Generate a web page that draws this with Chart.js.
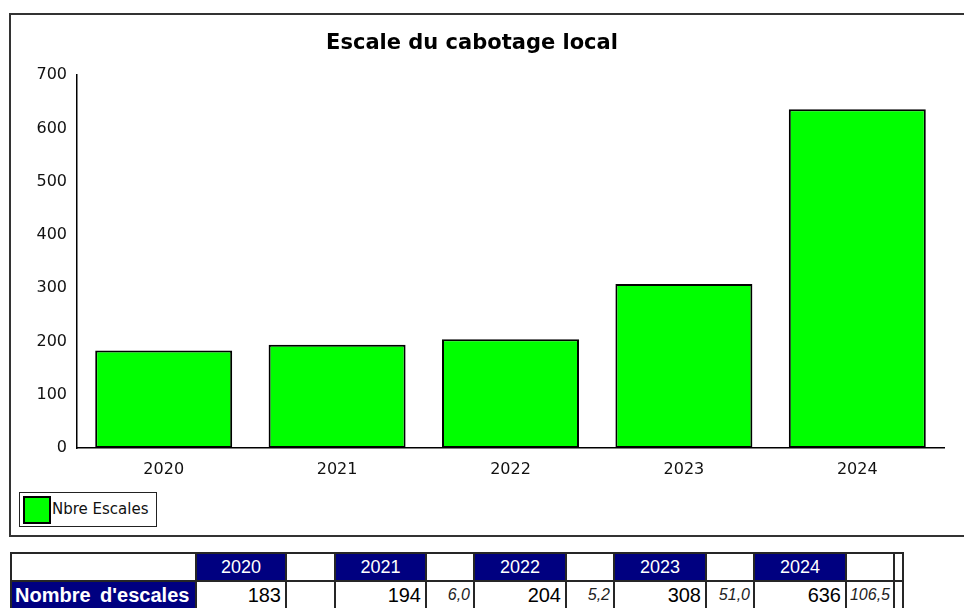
<!DOCTYPE html>
<html>
<head>
<meta charset="utf-8">
<script src="https://cdn.jsdelivr.net/npm/chart.js@4/dist/chart.umd.min.js"></script>
<style>
    body { margin: 0; width: 964px; height: 608px; overflow: hidden; background: #fff; position: relative; }
    #frame { position: absolute; left: 9px; top: 13px; width: 1000px; height: 520px; border: 2px solid #333; }
    #chart { position: absolute; left: 0; top: 0; }
    #legend { position: absolute; left: 19px; top: 492px; width: 136px; height: 33px; border: 1.5px solid #222; overflow: hidden; white-space: nowrap; font: 15px "DejaVu Sans", sans-serif; color: #111; }
    #legend .box { position: absolute; left: 3px; top: 3px; width: 24px; height: 24px; border: 2px solid #000; }
    #legend .txt { position: absolute; left: 32px; top: 7px; }
    #data-table { position: absolute; left: 10px; top: 552px; border-collapse: collapse; table-layout: fixed; font-family: "Liberation Sans", Arial, sans-serif; }
    #data-table td { border: 2px solid #262626; height: 26px; padding: 0; overflow: hidden; white-space: nowrap; }
    #data-table .year { background: #000080; color: #fff; font-size: 18px; text-align: center; }
    #data-table .rowlabel { background: #000080; color: #fff; font-size: 20px; font-weight: bold; padding-left: 3px; word-spacing: 4px; }
    #data-table .val { font-size: 20px; text-align: right; padding-right: 4px; color: #000; }
    #data-table .var { font-size: 16px; font-style: italic; text-align: right; padding-right: 3px; color: #222; }
</style>
</head>
<body>
<div id="frame"></div>
<canvas id="chart" width="964" height="490"></canvas>
<div id="legend"></div>
<table id="data-table"></table>
<script>
// values
const chartTitle = 'Escale du cabotage local';
const years = ['2020', '2021', '2022', '2023', '2024'];
const escales = [183, 194, 204, 308, 636];
const variations = ['', '6,0', '5,2', '51,0', '106,5'];
const seriesLabel = 'Nbre Escales';
const rowLabel = "Nombre d'escales";
const yTicks = { min: 0, max: 700, step: 100 };

// table column widths (label, then year / variation pairs, then the narrow end column)
const colWidths = [185, 90, 49, 91, 48, 92, 48, 92, 48, 92, 48, 9];

var tickFont = { family: 'DejaVu Sans', size: 16 };

var chart = new Chart(document.getElementById('chart').getContext('2d'), {
    type: 'bar',
    data: {
        labels: years,
        datasets: [{
            label: seriesLabel,
            data: escales,
            backgroundColor: '#00ff00',
            borderColor: '#000',
            borderWidth: 2,
            borderSkipped: false,
            barPercentage: 0.79,
            categoryPercentage: 1
        }]
    },
    options: {
        responsive: false,
        animation: false,
        layout: { padding: { left: 0, right: 20, top: 0, bottom: 0 } },
        plugins: {
            legend: { display: false },
            tooltip: { enabled: false },
            title: {
                display: true,
                text: chartTitle,
                color: '#000',
                font: { family: 'DejaVu Sans', size: 21, weight: 'bold', lineHeight: 1.2 },
                padding: { top: 31, bottom: 19 }
            }
        },
        scales: {
            x: {
                grid: { display: false, drawTicks: false },
                border: { display: true, color: '#000', width: 1.5 },
                ticks: { color: '#111', font: tickFont, padding: 12 },
                afterFit: function (scale) { scale.height = 42; }
            },
            y: {
                min: yTicks.min,
                max: yTicks.max,
                grid: { display: false, drawTicks: false },
                border: { display: true, color: '#000', width: 1.5 },
                ticks: { stepSize: yTicks.step, color: '#111', font: tickFont, padding: 10 },
                afterFit: function (scale) { scale.width = 77; }
            }
        }
    }
});

// legend box, built from the dataset
var ds = chart.data.datasets[0];
document.getElementById('legend').innerHTML =
    `<div class="box" style="background:${ds.backgroundColor}"></div><span class="txt">${ds.label}</span>`;

// data table under the chart
var table = document.getElementById('data-table');
var cols = '<colgroup>' + colWidths.map(w => `<col style="width:${w}px">`).join('') + '</colgroup>';
var head = '<tr><td></td>' + years.map(y => `<td class="year">${y}</td><td></td>`).join('') + '<td></td></tr>';
var row = `<tr><td class="rowlabel">${rowLabel}</td>` +
    escales.map((v, i) => `<td class="val">${v}</td><td class="var">${variations[i]}</td>`).join('') + '<td></td></tr>';
table.style.width = colWidths.reduce((a, b) => a + b, 0) + 'px';
table.innerHTML = cols + head + row;
</script>
</body>
</html>
